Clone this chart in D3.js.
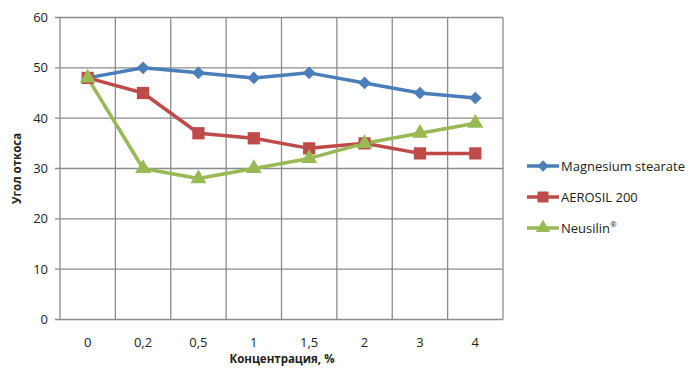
<!DOCTYPE html>
<html><head><meta charset="utf-8">
<script src="https://cdn.jsdelivr.net/npm/d3@7"></script>
<style>body{margin:0;background:#fff}svg{display:block}text{font-family:"Open Sans","Liberation Sans",sans-serif;fill:#222}</style>
</head><body><svg id="c" width="690" height="371"></svg>
<script>
const categories = ["0","0,2","0,5","1","1,5","2","3","4"];
const magnesium = [48,50,49,48,49,47,45,44];
const aerosil = [48,45,37,36,34,35,33,33];
const neusilin = [48,30,28,30,32,35,37,39];
const yTicks = [0,10,20,30,40,50,60];
const seriesNames = ["Magnesium stearate","AEROSIL 200","Neusilin"];

const series = [
  {name: seriesNames[0], values: magnesium, color: "#4a7ebb", shape: d3.symbolSquare, size: 80, rot: 45},
  {name: seriesNames[1], values: aerosil, color: "#be4b48", shape: d3.symbolSquare, size: 150, rot: 0},
  {name: seriesNames[2], values: neusilin, color: "#98b954", shape: d3.symbolTriangle, size: 110, rot: 0, sup: "®"}
];
const svg = d3.select("#c");
const L = 60, R = 503, T = 17.5, B = 319.5;
const x = d3.scaleBand().domain(categories).range([L, R]);
const y = d3.scaleLinear().domain([0, 60]).range([B, T]);
const g = svg.append("g");
// grid
g.selectAll(".hg").data(yTicks).join("line")
  .attr("x1", L - 5).attr("x2", R).attr("y1", d => y(d)).attr("y2", d => y(d))
  .attr("stroke", "#8c8c8c").attr("stroke-width", 1.3);
const vlines = categories.map(c => x(c)).concat([R]);
g.selectAll(".vg").data(vlines).join("line")
  .attr("x1", d => d).attr("x2", d => d).attr("y1", T).attr("y2", B)
  .attr("stroke", "#8c8c8c").attr("stroke-width", 1.3);
// y labels
g.selectAll(".yl").data(yTicks).join("text")
  .attr("x", L - 12).attr("y", d => y(d)).attr("dy", "0.35em")
  .attr("text-anchor", "end").attr("font-size", 13).text(d => d);
// x labels
g.selectAll(".xl").data(categories).join("text")
  .attr("x", d => x(d) + x.bandwidth() / 2).attr("y", 342).attr("dy", "0.35em")
  .attr("text-anchor", "middle").attr("font-size", 13).text(d => d);
svg.append("text").attr("x", 282).attr("y", 363).attr("text-anchor", "middle")
  .attr("font-size", 11.5).attr("font-weight", "bold").text("Концентрация, %");
svg.append("text").attr("transform", `translate(21,${(T + B) / 2}) rotate(-90)`)
  .attr("text-anchor", "middle").attr("font-size", 11.5).attr("font-weight", "bold").text("Угол откоса");
// lines
const line = d3.line().x((d, i) => x(categories[i]) + x.bandwidth() / 2).y(d => y(d));
series.forEach(s => {
  g.append("path").datum(s.values).attr("d", line).attr("fill", "none")
    .attr("stroke", s.color).attr("stroke-width", 3.5).attr("stroke-linejoin", "round");
});
series.forEach(s => {
  g.selectAll(null).data(s.values).join("path")
    .attr("transform", (d, i) => `translate(${x(categories[i]) + x.bandwidth() / 2},${y(d)}) rotate(${s.rot})`)
    .attr("d", d3.symbol().type(s.shape).size(s.size)).attr("fill", s.color);
});
// legend
const lg = svg.append("g");
series.forEach((s, i) => {
  const ly = 166 + i * 31;
  lg.append("line").attr("x1", 527).attr("x2", 559).attr("y1", ly).attr("y2", ly)
    .attr("stroke", s.color).attr("stroke-width", 3.5);
  lg.append("path").attr("transform", `translate(543,${ly}) rotate(${s.rot})`)
    .attr("d", d3.symbol().type(s.shape).size(s.size * 0.8)).attr("fill", s.color);
  const t = lg.append("text").attr("x", 561).attr("y", ly).attr("dy", "0.35em")
    .attr("font-size", 13).text(s.name);
  if (s.sup) t.append("tspan").attr("font-size", 8).attr("dy", "-0.7em").text(s.sup);
});
</script></body></html>
